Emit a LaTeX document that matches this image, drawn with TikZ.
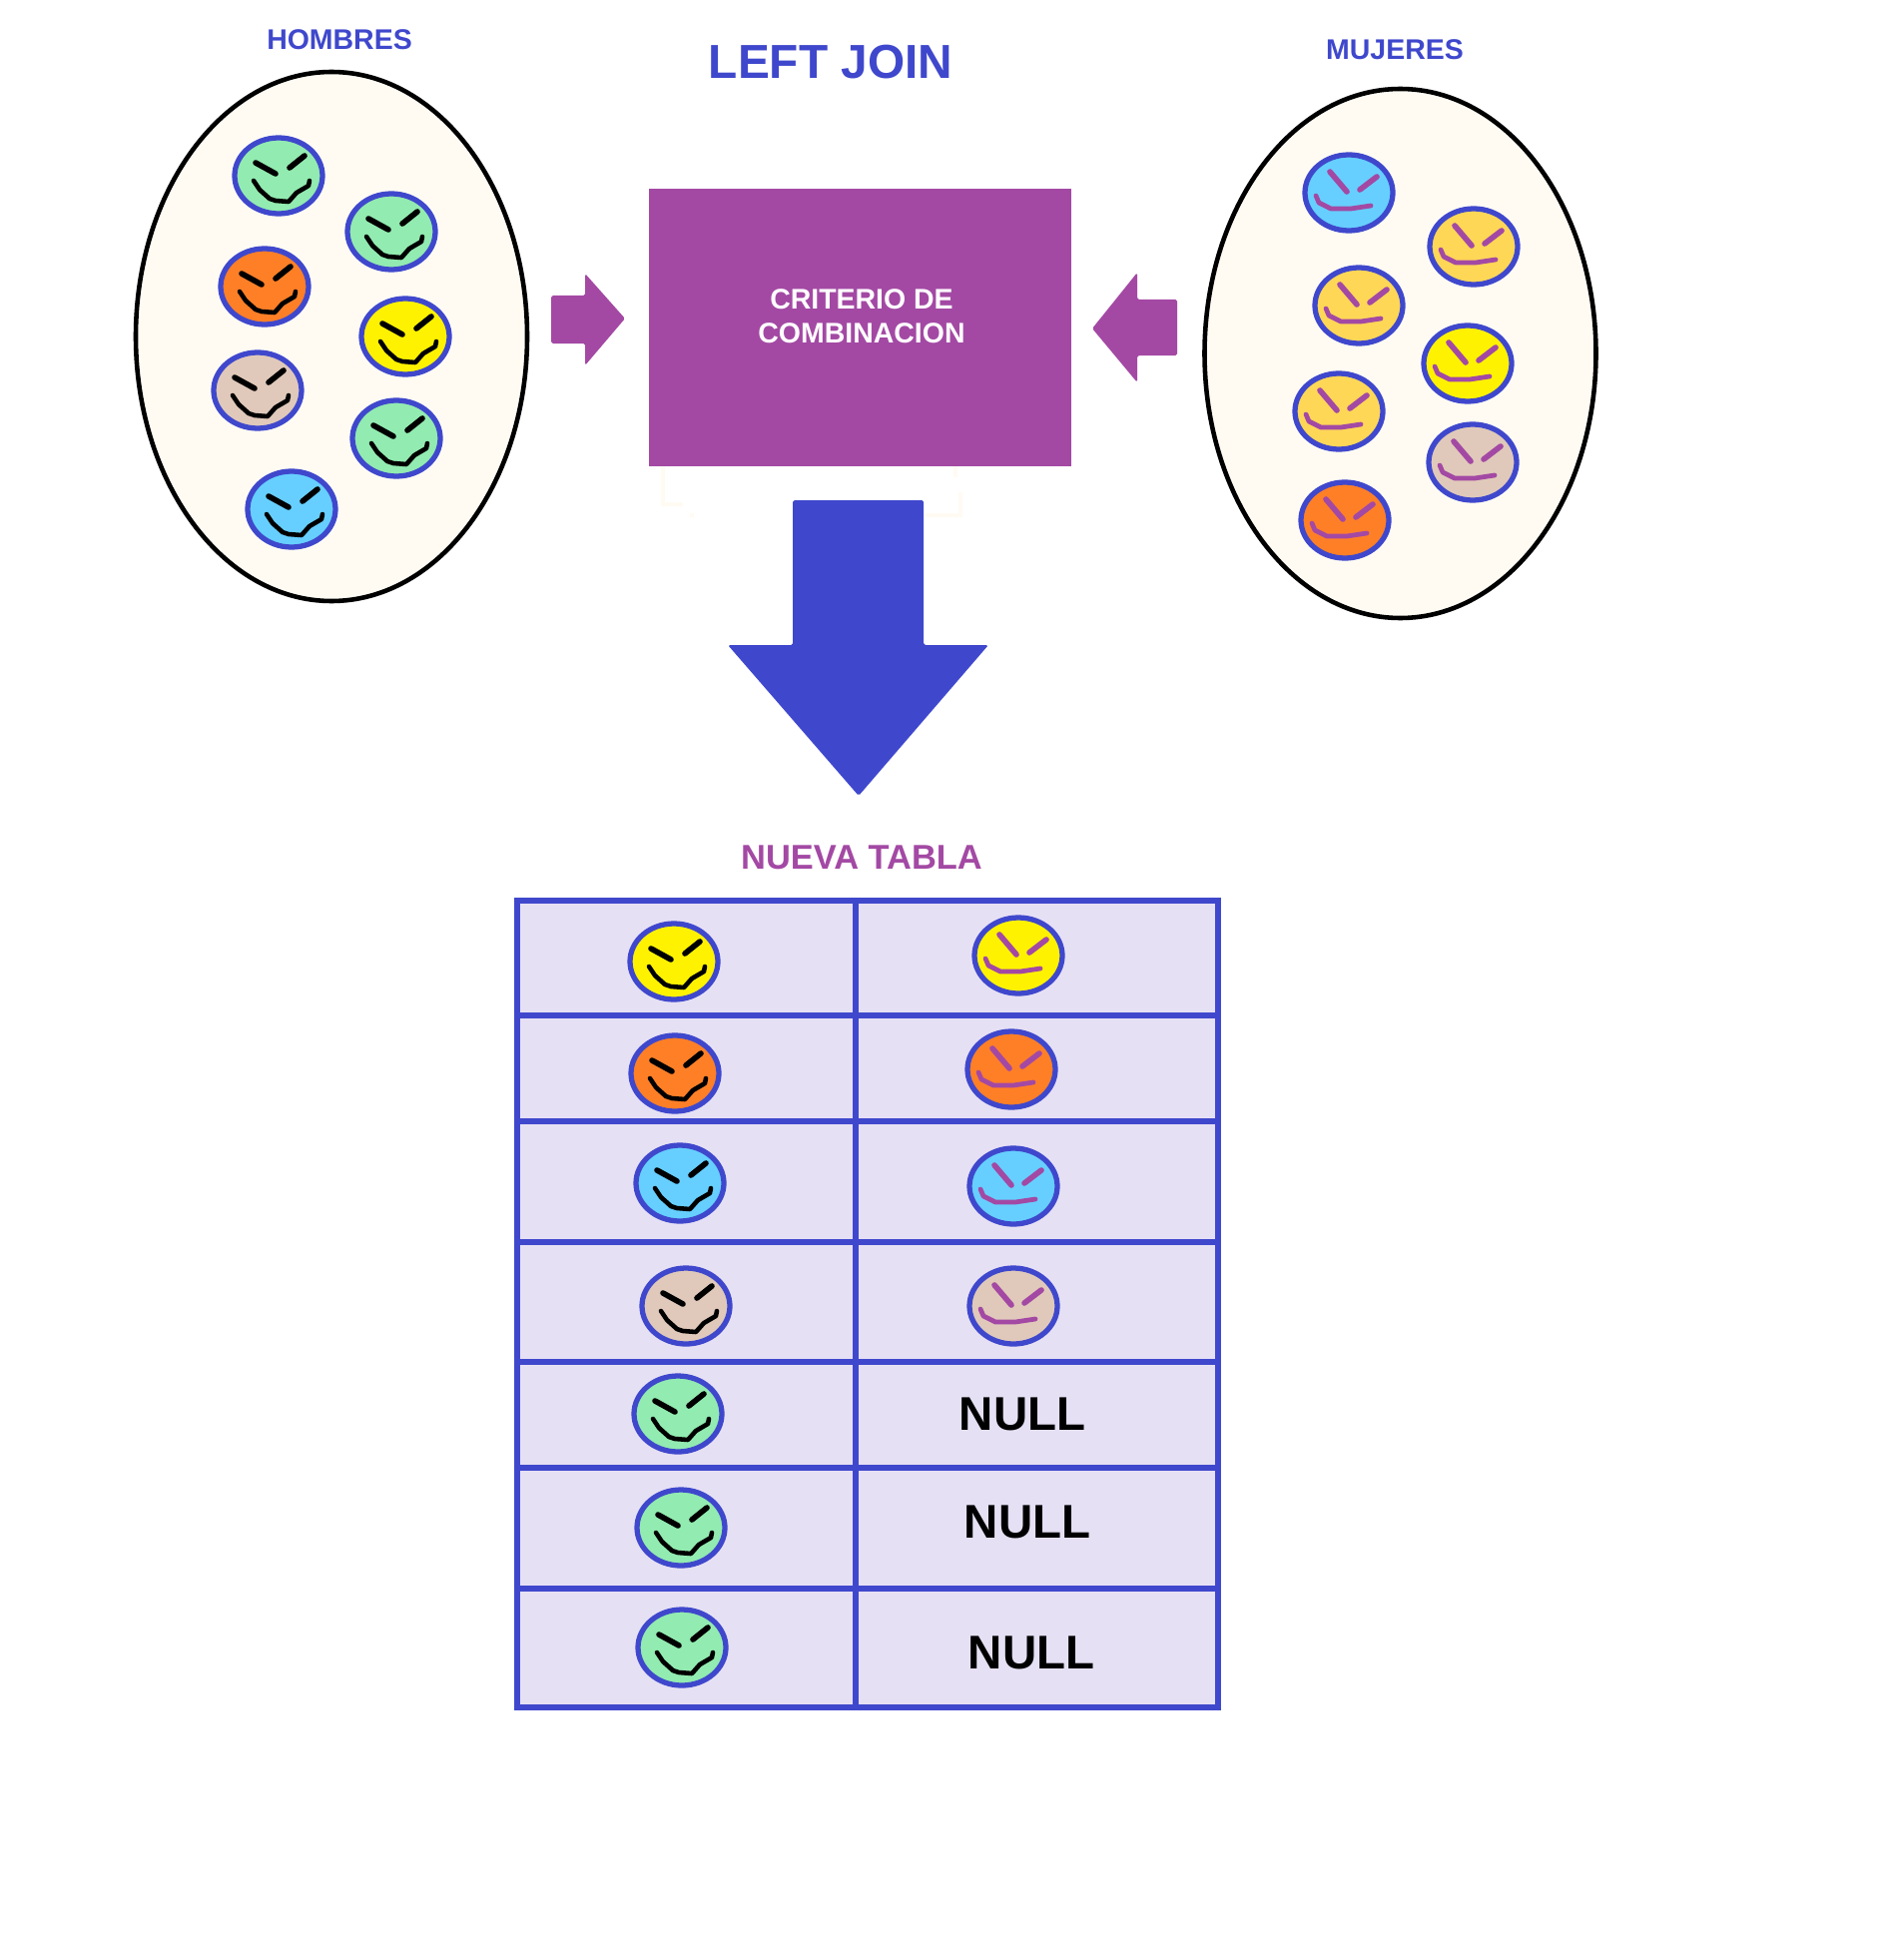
\documentclass[tikz,border=0pt]{standalone}
\usepackage{fontspec}
\setmainfont{Liberation Sans}
\definecolor{tablablue}{HTML}{3F48CC}
\definecolor{criteriopurple}{HTML}{A349A4}
\definecolor{crema}{HTML}{FFFBF3}
\definecolor{celda}{HTML}{E6E0F4}
\definecolor{cverde}{HTML}{92EBB0}
\definecolor{cnaranja}{HTML}{FF7F27}
\definecolor{camarillo}{HTML}{FFF200}
\definecolor{cbeige}{HTML}{E0C9BA}
\definecolor{ccielo}{HTML}{66CFFF}
\definecolor{coro}{HTML}{FFD757}
\tikzset{
    grupo/.style={draw=black, line width=2.6pt, fill=crema},
    carita/.style={draw=tablablue, line width=3pt},
    cejaH/.style={black, line width=3.2pt, line cap=round},
    bocaH/.style={black, line width=2.6pt, line cap=round, line join=round},
    cejaM/.style={criteriopurple, line width=3.2pt, line cap=round},
    bocaM/.style={criteriopurple, line width=2.7pt, line cap=round, line join=round},
    linea/.style={tablablue, line width=3pt},
    rotulo/.style={font=\bfseries\fontsize{16.2}{19}\selectfont, text=tablablue, inner sep=0pt},
    nulo/.style={font=\bfseries\fontsize{27}{30}\selectfont, text=black, inner sep=0pt},
    pics/hombre/.style={code={
        \path[carita, fill=#1] (0,0) ellipse [x radius=44, y radius=38];
        \draw[cejaH] (-23,-13) -- (-3,-2);
        \draw[cejaH] (11,-8) -- (26,-20);
        \draw[bocaH] (-25,5) -- (-19,14) -- (-9,23) -- (-3,25) -- (10,26) -- (18,17) -- (30,10) -- (31,5);
    }},
    pics/mujer/.style={code={
        \path[carita, fill=#1] (0,0) ellipse [x radius=44, y radius=38];
        \draw[cejaM] (-19,-21) -- (-2,-1);
        \draw[cejaM] (11,-3) -- (28,-16);
        \draw[bocaM] (-33,3) -- (-30,10) -- (-18,16) -- (2,16) -- (22,13);
    }},
}
\begin{document}
\begin{tikzpicture}[x=0.02cm, y=-0.02cm]
    \useasboundingbox (0,0) rectangle (1886,1963);
    % Titles
    \node[rotulo] (hombres) at (340,40) {HOMBRES};
    \node[rotulo] (mujeres) at (1397,50) {MUJERES};
    \node[rotulo, font=\bfseries\fontsize{27.2}{32}\selectfont] (titulo) at (832,62) {LEFT JOIN};
    \node[rotulo, text=criteriopurple, font=\bfseries\fontsize{19.6}{23}\selectfont] (nueva) at (863,859) {NUEVA TABLA};
    % Groups
    \draw[grupo] (332,337) ellipse [x radius=196, y radius=265];
    \draw[grupo] (1402.5,354) ellipse [x radius=196, y radius=265];
    \foreach \px/\py/\col in {279/176/cverde, 392/232/cverde, 265/287/cnaranja, 406/337/camarillo,
        258/391/cbeige, 397/439/cverde, 292/510/ccielo}
        \pic at (\px,\py) {hombre=\col};
    \foreach \px/\py/\col in {1351/193/ccielo, 1476/247/coro, 1361/306/coro, 1470/364/camarillo,
        1341/412/coro, 1475/463/cbeige, 1347/521/cnaranja}
        \pic at (\px,\py) {mujer=\col};
    % Leftover marks under the box
    \draw[crema, line width=2pt] (664,467) -- (664,505) -- (684,505);
    \draw[crema, line width=2pt] (693,514) -- (693,518);
    \draw[crema, line width=2pt] (957,467) -- (957,478);
    \draw[crema, line width=2pt] (962,493) -- (962,516) -- (927,516);
    % Criterion box
    \node[fill=criteriopurple, minimum width=423*0.02cm, minimum height=278*0.02cm, inner sep=0pt] (criterio) at (861.5,328) {};
    \node[text=white, align=center, inner sep=0pt, font=\bfseries\fontsize{16.2}{19.4}\selectfont] (textocriterio) at (863,317) {CRITERIO DE\\COMBINACION};
    % Block arrows
    \fill[criteriopurple, rounded corners=1pt] (552,296) -- (586,296) -- (586,274) -- (626,319) -- (586,366) -- (586,344) -- (552,344) -- cycle;
    \fill[criteriopurple, rounded corners=1pt] (1179,300) -- (1139,300) -- (1139,273) -- (1094,329) -- (1139,383) -- (1139,356) -- (1179,356) -- cycle;
    \fill[tablablue, rounded corners=1pt] (794,501) -- (925,501) -- (925,646) -- (990,646) -- (860,797) -- (729,646) -- (794,646) -- cycle;
    % Table
    \draw[linea, fill=celda] (518,902) rectangle (1220,1710);
    \foreach \fila in {1017,1123,1244,1364,1470,1591}
        \draw[linea] (518,\fila) -- (1220,\fila);
    \draw[linea] (857,902) -- (857,1710);
    \foreach \px/\py/\col in {675/963/camarillo, 676/1075/cnaranja, 681/1185/ccielo, 687/1308/cbeige,
        679/1416/cverde, 682/1530/cverde, 683/1650/cverde}
        \pic at (\px,\py) {hombre=\col};
    \foreach \px/\py/\col in {1020/957/camarillo, 1013/1071/cnaranja, 1015/1188/ccielo, 1015/1308/cbeige}
        \pic at (\px,\py) {mujer=\col};
    \node[nulo] (nulo1) at (1024,1416) {NULL};
    \node[nulo] (nulo2) at (1029,1524) {NULL};
    \node[nulo] (nulo3) at (1033,1655) {NULL};
\end{tikzpicture}
\end{document}
